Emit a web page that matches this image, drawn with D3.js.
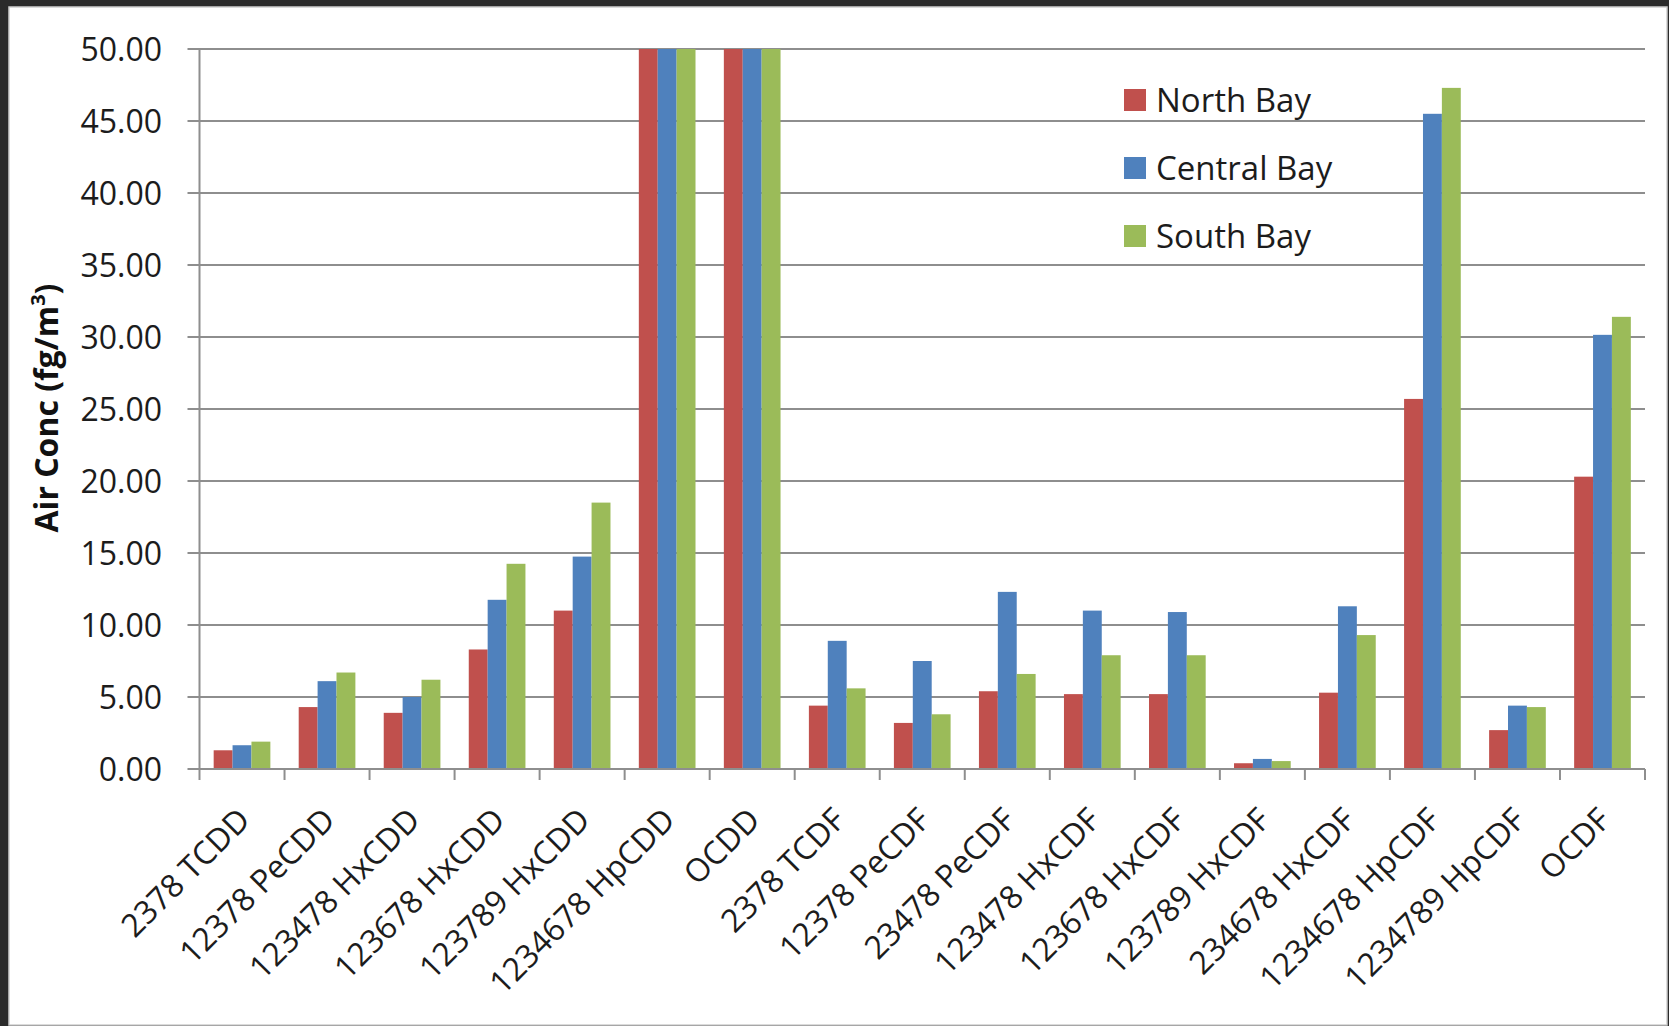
<!DOCTYPE html>
<html>
<head>
<meta charset="utf-8">
<script src="https://cdn.jsdelivr.net/npm/d3@7"></script>
<style>
  html, body { margin: 0; padding: 0; background: #2b2b2b; }
  svg { display: block; }
</style>
</head>
<body>
<script>
// Congener names along the x axis
const categories = [
  "2378 TCDD", "12378 PeCDD", "123478 HxCDD", "123678 HxCDD", "123789 HxCDD",
  "1234678 HpCDD", "OCDD", "2378 TCDF", "12378 PeCDF", "23478 PeCDF",
  "123478 HxCDF", "123678 HxCDF", "123789 HxCDF", "234678 HxCDF",
  "1234678 HpCDF", "1234789 HpCDF", "OCDF"
];
const seriesNames = ["North Bay", "Central Bay", "South Bay"];
// Air concentrations, fg/m3 (HpCDD and OCDD run off the top of the axis)
const northBay   = [1.3, 4.3, 3.9, 8.3, 11.0, 50, 50, 4.4, 3.2, 5.4, 5.2, 5.2, 0.4, 5.3, 25.7, 2.7, 20.3];
const centralBay = [1.65, 6.1, 5.0, 11.75, 14.75, 50, 50, 8.9, 7.5, 12.3, 11.0, 10.9, 0.7, 11.3, 45.5, 4.4, 30.15];
const southBay   = [1.9, 6.7, 6.2, 14.25, 18.5, 50, 50, 5.6, 3.8, 6.6, 7.9, 7.9, 0.55, 9.3, 47.3, 4.3, 31.4];
const yTicks = [0, 5, 10, 15, 20, 25, 30, 35, 40, 45, 50];
const colors = ["#C0504D", "#4F81BD", "#9BBB59"];

const W = 1669, H = 1026;
const svg = d3.select("body").append("svg").attr("width", W).attr("height", H);

// page frame
svg.append("rect").attr("x", 0).attr("y", 0).attr("width", W).attr("height", H).attr("fill", "#2b2b2b");
svg.append("rect").attr("x", 9).attr("y", 7).attr("width", W - 11).attr("height", H - 8)
  .attr("fill", "#ffffff").attr("stroke", "#cfcfcf").attr("stroke-width", 1.5);

const plotLeft = 199.5, plotRight = 1645, plotTop = 49, plotBottom = 769;
const x = d3.scaleBand().domain(categories).range([plotLeft, plotRight]).paddingInner(0).paddingOuter(0);
// three bars per group, gap of one and a half bar widths between groups
const inner = d3.scaleBand().domain(seriesNames).range([0, x.bandwidth()]).paddingInner(0).paddingOuter(0.75);
const y = d3.scaleLinear().domain([0, 50]).range([plotBottom, plotTop]).clamp(true);

const font = "'Open Sans', 'Noto Sans', sans-serif";
const gridColor = "#8e8e8e";
const textColor = "#1c1c1c";

// horizontal gridlines with short ticks left of the axis
svg.append("g").selectAll("line").data(yTicks).join("line")
  .attr("x1", plotLeft - 12).attr("x2", plotRight)
  .attr("y1", d => y(d)).attr("y2", d => y(d))
  .attr("stroke", gridColor).attr("stroke-width", 2);

// y tick labels
svg.append("g").selectAll("text").data(yTicks).join("text")
  .attr("x", 162).attr("y", d => y(d))
  .attr("dy", "0.36em")
  .attr("text-anchor", "end")
  .attr("font-family", font).attr("font-size", 32).attr("fill", textColor)
  .text(d => d3.format(".2f")(d));

// bars
const rows = categories.map((c, i) => ({ c, vals: [northBay[i], centralBay[i], southBay[i]] }));
const groups = svg.append("g").selectAll("g").data(rows).join("g")
  .attr("transform", d => `translate(${x(d.c)},0)`);
groups.selectAll("rect").data(d => d.vals.map((v, k) => ({ v, k }))).join("rect")
  .attr("x", d => inner(seriesNames[d.k]))
  .attr("width", inner.bandwidth())
  .attr("y", d => y(d.v))
  .attr("height", d => y(0) - y(d.v))
  .attr("fill", d => colors[d.k]);

// y axis line
svg.append("line").attr("x1", plotLeft).attr("x2", plotLeft).attr("y1", plotTop).attr("y2", plotBottom)
  .attr("stroke", gridColor).attr("stroke-width", 2);

// x axis with tick marks at category boundaries
svg.append("line").attr("x1", plotLeft).attr("x2", plotRight).attr("y1", plotBottom).attr("y2", plotBottom)
  .attr("stroke", gridColor).attr("stroke-width", 2);
const bounds = categories.map(c => x(c)).concat([plotRight]);
svg.append("g").selectAll("line").data(bounds).join("line")
  .attr("x1", d => d).attr("x2", d => d)
  .attr("y1", plotBottom).attr("y2", plotBottom + 11)
  .attr("stroke", gridColor).attr("stroke-width", 2);

// rotated category labels
svg.append("g").selectAll("text").data(categories).join("text")
  .attr("transform", d => `translate(${x(d) + x.bandwidth() / 2 - 6},${plotBottom + 37}) rotate(-45)`)
  .attr("text-anchor", "end")
  .attr("dy", "0.7em")
  .attr("font-family", font).attr("font-size", 32).attr("fill", textColor)
  .text(d => d);

// y axis title
const title = svg.append("text")
  .attr("transform", `translate(58,${408}) rotate(-90)`)
  .attr("text-anchor", "middle")
  .attr("font-family", font).attr("font-size", 32).attr("font-weight", "bold").attr("fill", "#111");
title.append("tspan").text("Air Conc (fg/m");
title.append("tspan").attr("baseline-shift", "super").attr("font-size", 20).text("3");
title.append("tspan").text(")");

// legend
const legend = svg.append("g").selectAll("g").data(seriesNames).join("g")
  .attr("transform", (d, i) => `translate(1124,${100 + i * 68})`);
legend.append("rect").attr("x", 0).attr("y", -11).attr("width", 22).attr("height", 22)
  .attr("fill", (d, i) => colors[i]);
legend.append("text").attr("x", 32).attr("y", 0).attr("dy", "0.36em")
  .attr("font-family", font).attr("font-size", 33).attr("fill", textColor)
  .text(d => d);
</script>
</body>
</html>
